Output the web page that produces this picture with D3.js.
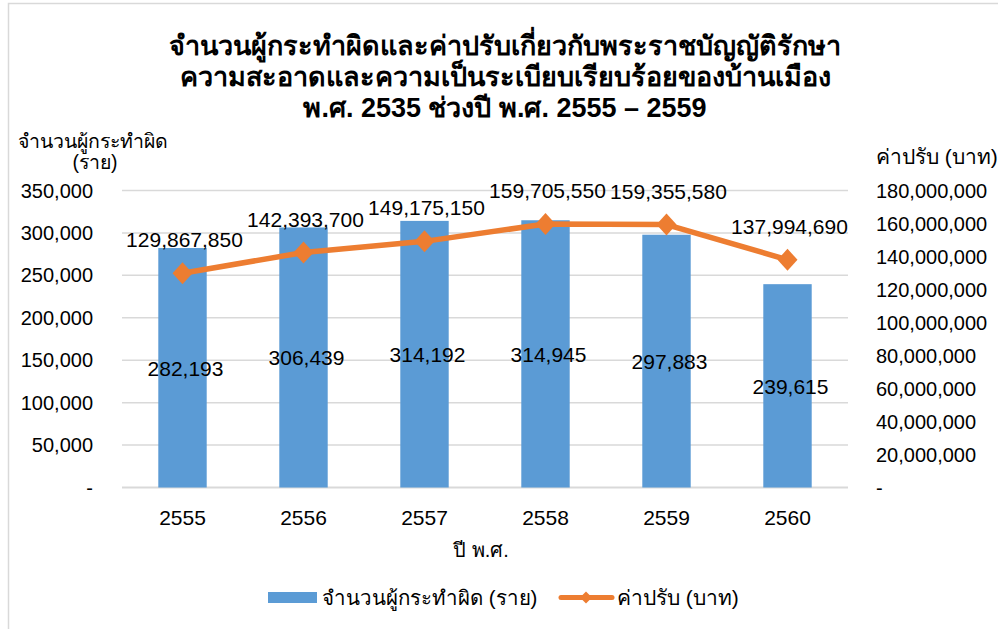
<!DOCTYPE html>
<html>
<head>
<meta charset="utf-8">
<script src="https://cdn.jsdelivr.net/npm/d3@7"></script>
<style>
  body { margin: 0; background: #fff; }
  text { font-family: Tahoma, "Liberation Sans", "Noto Sans", sans-serif; fill: #000; }
</style>
</head>
<body>
<svg width="998" height="629" id="chart"></svg>
<script>
  // data
  var years = ["2555", "2556", "2557", "2558", "2559", "2560"]
  var offenders = [282193, 306439, 314192, 314945, 297883, 239615]
  var fines = [129867850, 142393700, 149175150, 159705550, 159355580, 137994690]
  var leftTicks = [0, 50000, 100000, 150000, 200000, 250000, 300000, 350000]
  var rightTicks = [0, 20000000, 40000000, 60000000, 80000000, 100000000, 120000000, 140000000, 160000000, 180000000]
  var titleLines = ["จำนวนผู้กระทำผิดและค่าปรับเกี่ยวกับพระราชบัญญัติรักษา",
                    "ความสะอาดและความเป็นระเบียบเรียบร้อยของบ้านเมือง",
                    "พ.ศ. 2535 ช่วงปี พ.ศ. 2555 – 2559"]

  var svg = d3.select('#chart')
  var barColor = '#5B9BD5'
  var lineColor = '#ED7D31'
  var gridColor = '#D9D9D9'
  var fmt = d3.format(',')

  var x = d3.scaleBand().domain(years).range([122, 848]).paddingInner(0.6).paddingOuter(0.3)
  var yL = d3.scaleLinear().domain([0, 350000]).range([487.5, 190.5])
  var yR = d3.scaleLinear().domain([0, 180000000]).range([487.5, 190.5])

  // chart frame (only left / top edges show)
  svg.append('rect')
    .attr('x', 8.5).attr('y', 3.5)
    .attr('width', 1100).attr('height', 800)
    .attr('fill', 'none').attr('stroke', gridColor).attr('stroke-width', 1.5)

  // title
  svg.append('g').selectAll('text')
    .data(titleLines)
    .enter().append('text')
    .attr('x', 505)
    .attr('y', function(d, i) { return 55 + i * 31 })
    .attr('text-anchor', 'middle')
    .attr('font-size', 27)
    .attr('font-weight', 'bold')
    .text(function(d) { return d })

  // gridlines from the left axis
  svg.append('g').selectAll('line')
    .data(leftTicks)
    .enter().append('line')
    .attr('x1', 122).attr('x2', 848)
    .attr('y1', function(d) { return yL(d) })
    .attr('y2', function(d) { return yL(d) })
    .attr('stroke', gridColor)
    .attr('stroke-width', function(d) { return d === 0 ? 2 : 1.5 })

  // left axis labels
  svg.append('g').selectAll('text')
    .data(leftTicks)
    .enter().append('text')
    .attr('x', 93)
    .attr('y', function(d) { return yL(d) + 7 })
    .attr('text-anchor', 'end')
    .attr('font-size', 20)
    .text(function(d) { return d === 0 ? '-' : fmt(d) })

  // right axis labels
  svg.append('g').selectAll('text')
    .data(rightTicks)
    .enter().append('text')
    .attr('x', 876)
    .attr('y', function(d) { return yR(d) + 7 })
    .attr('font-size', 20)
    .text(function(d) { return d === 0 ? '-' : fmt(d) })

  // axis titles
  svg.append('text').attr('x', 18).attr('y', 148).attr('font-size', 19.5).text('จำนวนผู้กระทำผิด')
  svg.append('text').attr('x', 95).attr('y', 169).attr('font-size', 19.5).attr('text-anchor', 'middle').text('(ราย)')
  svg.append('text').attr('x', 876).attr('y', 164).attr('font-size', 21).text('ค่าปรับ (บาท)')
  svg.append('text').attr('x', 481).attr('y', 557).attr('font-size', 20).attr('text-anchor', 'middle').text('ปี พ.ศ.')

  // x labels
  svg.append('g').selectAll('text')
    .data(years)
    .enter().append('text')
    .attr('x', function(d) { return x(d) + x.bandwidth() / 2 })
    .attr('y', 525)
    .attr('text-anchor', 'middle')
    .attr('font-size', 21)
    .text(function(d) { return d })

  // bars
  svg.append('g').selectAll('rect')
    .data(offenders)
    .enter().append('rect')
    .attr('x', function(d, i) { return x(years[i]) })
    .attr('y', function(d) { return yL(d) })
    .attr('width', x.bandwidth())
    .attr('height', function(d) { return yL(0) - yL(d) })
    .attr('fill', barColor)

  // fines line
  var line = d3.line()
    .x(function(d, i) { return x(years[i]) + x.bandwidth() / 2 })
    .y(function(d) { return yR(d) })
  svg.append('path')
    .attr('d', line(fines))
    .attr('fill', 'none')
    .attr('stroke', lineColor)
    .attr('stroke-width', 5.5)
    .attr('stroke-linejoin', 'round')

  var diamond = 'M0,-11L10,0L0,11L-10,0Z'
  svg.append('g').selectAll('path')
    .data(fines)
    .enter().append('path')
    .attr('d', diamond)
    .attr('transform', function(d, i) {
      return 'translate(' + (x(years[i]) + x.bandwidth() / 2) + ',' + yR(d) + ')'
    })
    .attr('fill', lineColor)

  // bar value labels (middle of bar)
  svg.append('g').selectAll('text')
    .data(offenders)
    .enter().append('text')
    .attr('x', function(d, i) { return x(years[i]) + x.bandwidth() / 2 + 3 })
    .attr('y', function(d) { return (yL(d) + yL(0)) / 2 + 8 })
    .attr('text-anchor', 'middle')
    .attr('font-size', 21)
    .text(function(d) { return fmt(d) })

  // line value labels (above points)
  svg.append('g').selectAll('text')
    .data(fines)
    .enter().append('text')
    .attr('x', function(d, i) { return x(years[i]) + x.bandwidth() / 2 + 2 })
    .attr('y', function(d) { return yR(d) - 26 })
    .attr('text-anchor', 'middle')
    .attr('font-size', 21)
    .text(function(d) { return fmt(d) })

  // legend
  var legend = svg.append('g')
  legend.append('rect').attr('x', 268).attr('y', 592).attr('width', 49).attr('height', 11).attr('fill', barColor)
  legend.append('text').attr('x', 322).attr('y', 605).attr('font-size', 20.5).text('จำนวนผู้กระทำผิด (ราย)')
  legend.append('line').attr('x1', 561).attr('x2', 612).attr('y1', 597.5).attr('y2', 597.5)
    .attr('stroke', lineColor).attr('stroke-width', 5).attr('stroke-linecap', 'round')
  legend.append('path').attr('d', 'M0,-6L6,0L0,6L-6,0Z').attr('transform', 'translate(586,597.5)').attr('fill', lineColor)
  legend.append('text').attr('x', 617).attr('y', 605).attr('font-size', 21).text('ค่าปรับ (บาท)')
</script>
</body>
</html>
